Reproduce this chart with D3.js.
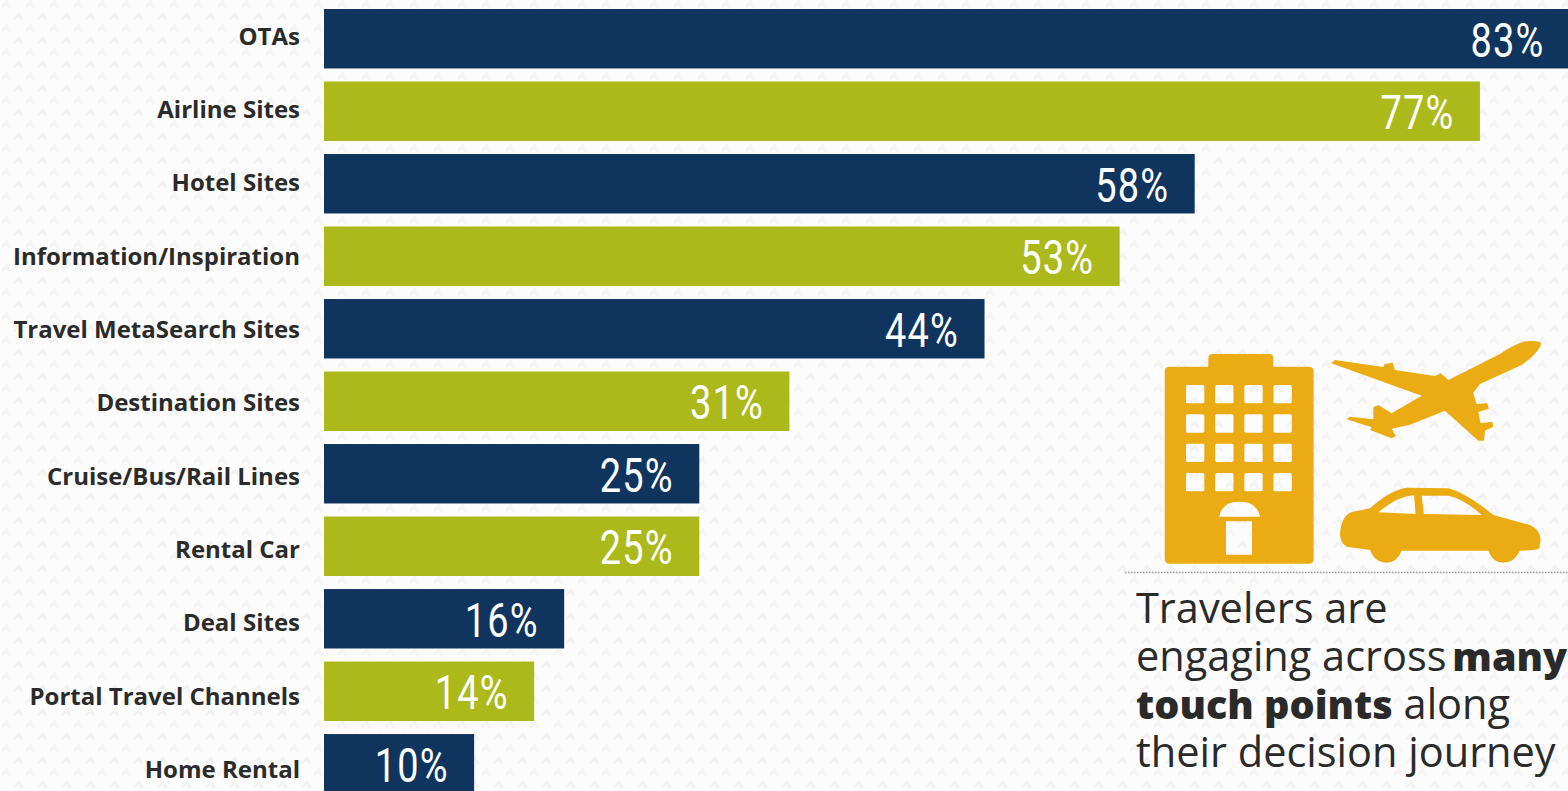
<!DOCTYPE html>
<html>
<head>
<meta charset="utf-8">
<script src="https://cdn.jsdelivr.net/npm/d3@7/dist/d3.min.js"></script>
<style>
  html, body { margin: 0; padding: 0; background: #fbfbfb; overflow: hidden; }
  svg { display: block; }
</style>
</head>
<body>
<svg id="chart" width="1568" height="791"></svg>
<script>
const categories = ["OTAs", "Airline Sites", "Hotel Sites", "Information/Inspiration",
  "Travel MetaSearch Sites", "Destination Sites", "Cruise/Bus/Rail Lines", "Rental Car",
  "Deal Sites", "Portal Travel Channels", "Home Rental"];
const shares = [83, 77, 58, 53, 44, 31, 25, 25, 16, 14, 10];
const barColors = ["#0f355f", "#abb91b"];
const captionLines = [
  [["Travelers are", false]],
  [["engaging across ", false], ["many", true]],
  [["touch points", true], [" along", false]],
  [["their decision journey", false]]
];

const svg = d3.select("#chart");
const defs = svg.append("defs");

// Faint woven texture behind everything
const weave = defs.append("pattern").attr("id", "weave")
  .attr("width", 24).attr("height", 24).attr("patternUnits", "userSpaceOnUse");
weave.append("rect").attr("width", 24).attr("height", 24).attr("fill", "#fcfcfc");
weave.append("path")
  .attr("d", "M2,7 L7,2 L10,8 M14,19 L19,14 L22,20")
  .attr("fill", "none").attr("stroke", "#f3f3f3").attr("stroke-width", 2.8);
svg.append("rect").attr("width", 1568).attr("height", 791).attr("fill", "url(#weave)");

const x = d3.scaleLinear().domain([0, 83]).range([324, 1570]);
const y = d3.scaleBand().domain(categories).range([9, 793.5]).paddingInner(0.18).paddingOuter(0);
const labelY = d3.scalePoint().domain(categories).range([36.5, 770]);

svg.append("g").selectAll("rect").data(categories).join("rect")
  .attr("x", x(0))
  .attr("y", d => y(d))
  .attr("width", (d, i) => x(shares[i]) - x(0))
  .attr("height", y.bandwidth())
  .attr("fill", (d, i) => barColors[i % 2]);

// Category labels come from a left axis with the line and ticks hidden
const axis = svg.append("g")
  .attr("transform", `translate(${x(0)},0)`)
  .call(d3.axisLeft(labelY).tickSize(0).tickPadding(24));
axis.select(".domain").remove();
axis.selectAll("text")
  .attr("font-family", "'Open Sans'")
  .attr("font-weight", 700)
  .attr("font-size", 24)
  .attr("fill", "#2b2b2b");

// Percent labels, squeezed horizontally to get a tall narrow figure
svg.append("g").selectAll("text").data(categories).join("text")
  .attr("transform", (d, i) =>
    `translate(${x(shares[i]) - 25.5},${y(d) + y.bandwidth() / 2 + 18}) scale(0.79,1)`)
  .attr("text-anchor", "end")
  .attr("font-family", "'Roboto'")
  .attr("font-weight", 400)
  .attr("font-size", 48)
  .attr("letter-spacing", 1.5)
  .attr("fill", "#ffffff")
  .text((d, i) => `${shares[i]}%`);

// Travel icons, drawn on a 3x grid
const icons = svg.append("g")
  .attr("transform", "translate(1120,330) scale(0.3333)")
  .attr("fill", "#ebac13");

const windowRows = d3.range(4), windowCols = d3.range(4);
let hotel = "M134,125 Q134,110 149,110 L265,110 L265,85 Q265,72 278,72 L448,72 Q460,72 460,85 L460,110 L566,110 Q581,110 581,125 L581,686 Q581,701 566,701 L149,701 Q134,701 134,686 Z ";
windowRows.forEach(r => windowCols.forEach(c => {
  const wx = 198 + c * 87.5, wy = 165 + r * 88;
  hotel += `M${wx + 5},${wy} h45 q5,0 5,5 v45 q0,5 -5,5 h-45 q-5,0 -5,-5 v-45 q0,-5 5,-5 Z `;
}));
hotel += "M298,560 Q305,515 358,515 Q412,515 420,560 Z M318,574 h78 v100 h-78 Z";
icons.append("path").attr("d", hotel).attr("fill-rule", "evenodd");

icons.append("path").attr("d",
  "M1264,40 Q1255,30 1215,34 Q1180,44 1140,72 L985,150 L962,130 L945,138 L825,120 L818,98 L795,102 L790,111 L645,90 L634,100 L905,197 L815,250 L775,225 L760,232 L760,268 L690,260 L680,268 L755,292 L750,300 L815,325 L828,318 L815,296 L870,284 L975,242 L1075,332 L1092,332 L1095,302 L1120,290 L1117,275 L1082,280 L1075,246 L1107,236 L1102,220 L1070,222 L1060,188 L1080,162 L1205,105 Q1258,68 1264,40 Z");

icons.append("path").attr("fill-rule", "evenodd").attr("d",
  "M660,610 Q665,552 700,545 L750,535 Q810,480 860,473 L985,475 Q1040,490 1120,555 L1230,585 Q1262,600 1262,630 L1258,655 Q1250,662 1200,662 Q1182,698 1150,698 Q1118,698 1105,662 L845,662 Q830,698 800,698 Q765,698 750,660 L680,650 Q660,640 660,610 Z M775,547 Q830,500 882,495 L887,552 Z M905,497 L985,497 Q1030,505 1085,555 L912,552 Z");

svg.append("line")
  .attr("x1", 1125).attr("x2", 1568).attr("y1", 572.5).attr("y2", 572.5)
  .attr("stroke", "#9a9a9a").attr("stroke-width", 1.5).attr("stroke-dasharray", "1.5 1.5");

const caption = svg.append("g")
  .attr("font-family", "'Open Sans'")
  .attr("font-size", 41.5)
  .attr("fill", "#2a2a2a");
captionLines.forEach((runs, i) => {
  const line = caption.append("text").attr("x", 1136).attr("y", 622.5 + i * 48);
  runs.forEach(([txt, strong], j) => line.append("tspan")
    .attr("font-weight", strong ? 800 : 400)
    .attr("font-size", strong ? 39.6 : 41.5)
    // tighten the gap before a bold word that closes a line
    .attr("dx", strong && j > 0 ? -5 : 0)
    .style("white-space", "pre").text(txt));
});
</script>
</body>
</html>
